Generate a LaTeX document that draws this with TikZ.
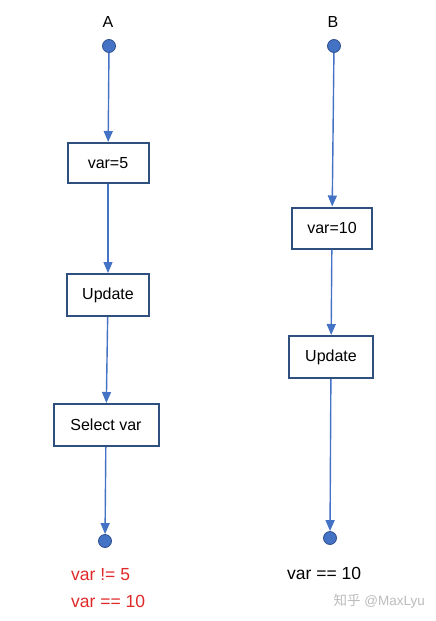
\documentclass[tikz,border=0pt]{standalone}
\usepackage{fontspec}
\setmainfont{Liberation Sans}
\newfontfamily\cjkfont{Noto Sans CJK SC}
\usetikzlibrary{arrows.meta}
\definecolor{lineblue}{HTML}{4472C4}
\definecolor{boxblue}{HTML}{2F4F7F}
\definecolor{dotedge}{HTML}{2F528F}
\definecolor{redtxt}{HTML}{E02828}
\definecolor{wmgray}{HTML}{BBBBBB}
\tikzset{
  stepbox/.style={draw=boxblue, line width=2pt, fill=white, inner sep=0pt, font=\fontsize{16}{19}\selectfont},
  dotnode/.style={circle, fill=lineblue, draw=dotedge, line width=0.8pt, minimum size=13pt, inner sep=0pt},
  flow/.style={draw=lineblue, line width=1.4pt, -{Triangle[length=11pt,width=9pt]}},
  lbl/.style={font=\fontsize{16}{19}\selectfont, inner sep=0pt},
  res/.style={font=\fontsize{17.5}{20}\selectfont, inner sep=0pt, anchor=west}
}
\begin{document}
\begin{tikzpicture}[x=1pt,y=-1pt]
\useasboundingbox (0,0) rectangle (436,621);
% column A
\node[lbl] (la) at (108,22) {A};
\node[dotnode] (da) at (109,46) {};
\node[stepbox, minimum width=81pt, minimum height=40pt] (a1) at (108,163) {var=5};
\node[stepbox, minimum width=82pt, minimum height=42pt] (a2) at (108,295) {Update};
\node[stepbox, minimum width=105pt, minimum height=42pt] (a3) at (106,425) {Select var};
\node[dotnode] (ea) at (105,541) {};
\node[res, text=redtxt] (ta1) at (71,575) {var != 5};
\node[res, text=redtxt] (ta2) at (71,601) {var == 10};
\draw[flow] (da) -- (a1);
\draw[flow] (a1) -- (a2);
\draw[flow] (a2) -- (a3);
\draw[flow] (a3) -- (ea);
% column B
\node[lbl] (lb) at (333,22) {B};
\node[dotnode] (db) at (334,46) {};
\node[stepbox, minimum width=80pt, minimum height=41pt] (b1) at (332,228) {var=10};
\node[stepbox, minimum width=84pt, minimum height=42pt] (b2) at (331,357) {Update};
\node[dotnode] (eb) at (330,538) {};
\node[res] (tb) at (287,573) {var == 10};
\draw[flow] (db) -- (b1);
\draw[flow] (b1) -- (b2);
\draw[flow] (b2) -- (eb);
% watermark
\node[inner sep=0pt, anchor=east, text=wmgray, font=\fontsize{13.5}{16}\selectfont] (wm) at (425,601) {{\cjkfont 知乎} @MaxLyu};
\end{tikzpicture}
\end{document}
